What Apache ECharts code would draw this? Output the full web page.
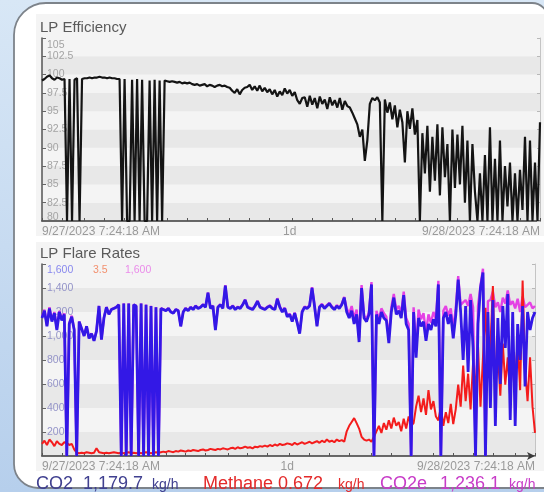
<!DOCTYPE html>
<html><head><meta charset="utf-8">
<script src="https://cdn.jsdelivr.net/npm/echarts@6/dist/echarts.min.js"></script>
<style>html,body{margin:0;padding:0;background:#c9dcf0}#c{width:544px;height:492px}</style>
</head><body><div id="c"></div>
<script>
// ---- data (uniform samples across 9/27/2023 7:24:18 AM -> 9/28/2023 7:24:18 AM) ----
const efficiency = [
 99.2,99.4,99.7,99.9,99.5,99.3,99.6,99.5,99.3,99.4,
 80,99.4,80,99.3,99.5,80,
 99.4,99.5,99.5,99.6,99.5,99.6,99.6,99.7,99.6,99.6,99.5,99.6,99.5,99.5,99.4,
 99.4,80,99.4,80,80,99.3,80,99.4,80,99.3,80,80,99.2,80,99.3,80,99.2,80,
 99.2,99.1,99.0,99.1,99.0,98.9,99.0,98.8,98.9,98.8,98.9,98.7,
 98.6,98.7,98.5,98.6,98.7,98.4,98.6,98.5,98.3,98.5,98.6,98.4,98.5,98.3,98.2,
 97.8,97.5,98.0,97.3,97.9,98.2,98.3,
 98.6,97.9,98.4,97.8,98.5,97.7,98.2,97.6,98.0,97.3,97.9,97.0,97.7,
 97.2,98.1,97.4,97.9,97.1,97.6,96.5,96.0,96.8,
 96.9,95.6,97.1,95.9,96.8,95.4,97.0,96.0,96.6,95.3,96.9,95.8,96.5,95.5,96.8,95.2,96.4,95.7,
 95.5,94.8,94.0,93.2,91.5,92.5,88.2,91.0,
 96.0,96.8,96.5,96.9,96.2,
 80,
 96.6,94.8,96.2,93.9,95.8,92.8,95.2,93.5,
 88.0,
 95.0,92.6,95.4,91.8,93.8,
 80,
 92.0,86.5,93.0,84.0,91.5,85.5,93.2,83.5,92.8,86.0,90.5,80,92.5,84.5,91.8,85.0,93.0,82.5,91.0,
 80,
 90.5,84.0,80,86.5,80,89.0,80,92.8,80,88.5,80,91.0,80,87.5,82.0,88.0,80,86.5,80,87.0,81.5,91.5,80,91.0,80,88.0,80,93.5
];
const co2 = [
 1150,1210,1080,1230,1120,1190,1050,1200,1130,1180,
 0,1100,1160,1050,0,
 1120,1060,1000,1080,980,1020,960,1040,
 1250,970,1150,1240,1180,1220,1230,1240,
 1260,0,1270,0,1270,0,1260,1250,0,1270,0,1260,0,1250,0,1240,0,1230,
 1220,1210,1230,1200,1190,1220,1210,1080,1200,1230,1210,1240,
 1220,1250,1230,1240,1260,1240,1360,1230,1250,1050,1240,1260,1230,1420,1240,
 1230,1250,1220,1240,1230,1260,1300,1240,1230,1220,1250,1290,1240,1230,1220,1240,1250,1230,1220,1310,1240,1200,1230,1160,
 1180,1120,1190,1110,1020,1200,1240,1230,1250,1400,
 1250,1080,1240,1260,1230,1250,1270,1240,1220,1250,1230,1260,1320,
 1200,1150,1210,1100,1180,950,1400,1150,1120,1180,1430,0,
 1180,1100,1200,1150,1130,940,1200,1320,1180,1210,1150,1340,1100,1050,0,1200,820,
 1150,1080,1120,960,1100,1050,1140,1080,1430,0,
 1150,1200,1100,1180,980,1170,1470,
 1200,800,1250,700,1300,900,0,1100,1400,1530,0,
 1200,400,1300,250,1150,600,1250,900,1350,300,1200,250,1100,800,1250,580,1200,1050,1150,1200
];
const methane = [
 0.22,0.28,0.2,0.3,0.25,0.18,0.27,0.22,0.2,0.25,
 0.24,0.2,0.22,0.12,0.06,0.05,0.06,0.05,0.07,0.06,
 0.05,0.06,0.14,0.07,0.06,0.05,0.06,0.05,0.06,0.07,
 0.06,0.05,0.06,0.05,0.06,0.07,0.05,0.06,0.05,0.06,
 0.05,0.06,0.07,0.06,0.05,0.06,0.07,0.06,0.07,0.08,
 0.07,0.09,0.08,0.07,0.09,0.08,0.1,0.09,0.08,0.1,
 0.09,0.11,0.1,0.09,0.11,0.12,0.1,0.11,0.13,0.12,
 0.11,0.13,0.12,0.14,0.13,0.12,0.14,0.15,0.13,0.16,
 0.14,0.15,0.17,0.15,0.16,0.14,0.17,0.16,0.18,0.17,
 0.19,0.17,0.2,0.18,0.21,0.19,0.22,0.2,0.21,0.23,
 0.22,0.2,0.24,0.21,0.23,0.25,0.22,0.24,0.26,0.23,
 0.25,0.27,0.24,0.28,0.25,0.3,0.26,0.28,0.25,0.3,0.27,0.29,0.26,
 0.45,0.55,0.62,0.69,0.6,0.5,0.35,0.3,
 0.28,0.3,0.26,
 0.35,0.45,0.55,0.42,0.6,0.48,0.65,0.5,0.7,0.55,0.62,0.45,0.68,0.5,0.72,0.55,0.6,
 0.9,1.1,0.8,1.05,0.75,1.2,0.85,1.0,0.72,
 0.65,0.9,0.55,0.8,0.6,0.95,0.58,0.85,
 1.3,0.9,1.65,1.0,1.5,0.85,1.7,
 1.2,2.0,0.9,1.8,2.7,
 1.5,2.0,3.1,1.2,1.9,1.1,2.05,1.3,1.8,1.05,1.95,1.4,2.1,1.2,3.2,1.6,1.0,1.8,0.9,0.42
];
const co2e = [
 1160,1220,1090,1240,1130,1200,1060,1210,1140,1190,
 0,1110,1170,1055,0,
 1122,1062,1002,1082,982,1022,962,1044,
 1252,972,1152,1242,1182,1222,1232,1242,
 1262,0,1272,0,1272,0,1262,1252,0,1272,0,1262,0,1252,0,1242,0,1232,
 1222,1213,1232,1202,1192,1222,1213,1083,1202,1233,1213,1243,
 1223,1253,1233,1243,1263,1243,1363,1233,1253,1053,1243,1263,1233,1423,1243,
 1234,1254,1224,1244,1234,1264,1304,1244,1234,1224,1254,1294,1244,1234,1224,1244,1255,1235,1225,1315,1245,1205,1235,1166,
 1186,1126,1196,1116,1026,1206,1246,1236,1256,1406,
 1256,1087,1246,1267,1236,1257,1276,1247,1226,1257,1237,1267,1326,
 1230,1185,1250,1145,1220,985,1425,1170,1140,1200,1450,0,
 1210,1140,1230,1190,1160,990,1240,1350,1220,1250,1190,1370,1150,1100,0,1240,880,
 1220,1140,1190,1030,1180,1110,1200,1140,1460,0,
 1210,1250,1170,1230,1060,1230,1500,
 1260,1280,1300,1250,1350,1240,0,1250,1420,1560,0,
 1290,1300,1370,1240,1280,1200,1320,1270,1380,1260,1290,1230,1310,1200,1330,1240,1260,1280,1230,1250
];
const xTickLabels = ['9/27/2023 7:24:18 AM', '1d', '9/28/2023 7:24:18 AM'];
const titles = ['LP Efficiency', 'LP Flare Rates'];
const legendNames = ['CO2', 'Methane', 'CO2e'];
const legendValues = ['1,179.7', '0.672', '1,236.1'];
const legendUnit = 'kg/h';

const N = efficiency.length;
const samples = efficiency.map((_, i) => String(i));
const MID = 99;
const FONT = 'Liberation Sans, Arial, sans-serif';

function xAxisFor(grid, arrow) {
  return {
    gridIndex: grid, type: 'category', data: samples, boundaryGap: false,
    axisLine: { show: true, lineStyle: { color: '#3a3a3a', width: 1.5 },
      symbol: arrow ? ['none', 'arrow'] : ['none', 'none'], symbolSize: [6, 8] },
    axisTick: { show: true, inside: true, length: 3, lineStyle: { color: '#555' },
      interval: (i) => Math.round(Math.round(i * 24 / (N - 1)) * (N - 1) / 24) === i },
    axisLabel: {
      interval: (i) => i === 0 || i === MID || i === N - 1,
      formatter: (v, i) => i === 0 ? xTickLabels[0] : (i === MID ? xTickLabels[1] : (i === N - 1 ? xTickLabels[2] : '')),
      alignMinLabel: 'left', alignMaxLabel: 'right',
      color: '#9a9a9a', fontSize: 12, fontFamily: FONT, margin: 5
    },
    splitLine: { show: false }
  };
}
function rightAxis(grid, min, max, interval) {
  return { gridIndex: grid, type: 'value', position: 'right', min, max, interval,
    axisLine: { show: true, lineStyle: { color: '#c4c4c4' } },
    axisTick: { show: true, inside: true, length: 3, lineStyle: { color: '#b8b8b8' } },
    axisLabel: { show: false }, splitLine: { show: false } };
}

const chart = echarts.init(document.getElementById('c'), null, { renderer: 'canvas' });
chart.setOption({
  animation: false,
  backgroundColor: '#c9dcf0',
  textStyle: { fontFamily: FONT },
  grid: [
    { left: 42, top: 38, width: 498, height: 183 },
    { left: 42, top: 264, width: 493, height: 192 }
  ],
  xAxis: [ xAxisFor(0, false), xAxisFor(1, true) ],
  yAxis: [
    { gridIndex: 0, type: 'value', position: 'left', min: 80, max: 105, interval: 2.5,
      axisLine: { show: true, lineStyle: { color: '#555', width: 1.5 } },
      axisTick: { show: true, inside: true, length: 4, lineStyle: { color: '#666' } },
      axisLabel: { inside: true, margin: 5, color: '#a4a4a4', fontSize: 10.5, fontFamily: FONT, hideOverlap: false,
        formatter: (v) => v === 105 ? '{t|105}' : (v === 80 ? '{b|80}' : String(v)),
        rich: { t: { padding: [14, 0, 0, 0], color: '#a4a4a4', fontSize: 10.5, fontFamily: FONT },
                b: { padding: [0, 0, 8, 0], color: '#a4a4a4', fontSize: 10.5, fontFamily: FONT } } },
      splitLine: { show: false },
      splitArea: { show: true, areaStyle: { color: ['#e8e8e8', '#f4f4f4'] } } },
    rightAxis(0, 80, 105, 2.5),
    { gridIndex: 1, type: 'value', position: 'left', min: 0, max: 1600, interval: 200,
      axisLine: { show: true, lineStyle: { color: '#555', width: 1.5 } },
      axisTick: { show: true, inside: true, length: 4, lineStyle: { color: '#666' } },
      axisLabel: { inside: true, margin: 5, color: '#9494c8', fontSize: 10.5, fontFamily: FONT,
        formatter: (v) => v === 0 ? '' : (v === 1600 ? '{t|1,600}' : v.toLocaleString('en-US')),
        rich: { t: { padding: [12, 0, 0, 0], color: '#8888ee', fontSize: 10.5, fontFamily: FONT } } },
      splitLine: { show: false },
      splitArea: { show: true, areaStyle: { color: ['#e8e8e8', '#f4f4f4'] } } },
    { gridIndex: 1, type: 'value', position: 'left', min: 0, max: 3.5, interval: 3.5,
      axisLine: { show: false }, axisTick: { show: false }, splitLine: { show: false },
      axisLabel: { inside: true, margin: 51, fontSize: 10.5, fontFamily: FONT,
        formatter: (v) => v === 3.5 ? '{t|3.5}' : '',
        rich: { t: { padding: [12, 0, 0, 0], color: '#f2906e', fontSize: 10.5, fontFamily: FONT } } } },
    { gridIndex: 1, type: 'value', position: 'left', min: 0, max: 1600, interval: 1600,
      axisLine: { show: false }, axisTick: { show: false }, splitLine: { show: false },
      axisLabel: { inside: true, margin: 83, fontSize: 10.5, fontFamily: FONT,
        formatter: (v) => v === 1600 ? '{t|1,600}' : '',
        rich: { t: { padding: [12, 0, 0, 0], color: '#ea8cea', fontSize: 10.5, fontFamily: FONT } } } },
    rightAxis(1, 0, 1600, 200)
  ],
  series: [
    { type: 'line', xAxisIndex: 0, yAxisIndex: 0, data: efficiency, symbol: 'none',
      lineStyle: { color: '#141414', width: 2.2 }, z: 3 },
    { type: 'line', xAxisIndex: 1, yAxisIndex: 4, data: co2e, symbol: 'none',
      lineStyle: { color: '#e442e4', width: 2.4 }, z: 2 },
    { type: 'line', xAxisIndex: 1, yAxisIndex: 3, data: methane, symbol: 'none',
      lineStyle: { color: '#f41c1c', width: 2 }, z: 3 },
    { type: 'line', xAxisIndex: 1, yAxisIndex: 2, data: co2, symbol: 'none',
      lineStyle: { color: '#3318e6', width: 2.8 }, z: 4 }
  ],
  graphic: [
    { type: 'rect', z: -100, silent: true, shape: { x: 0, y: 0, width: 544, height: 492 },
      style: { fill: new echarts.graphic.LinearGradient(0, 0, 0, 1, [
        { offset: 0, color: '#d8e7f6' }, { offset: 1, color: '#b6cfec' }]) } },
    { type: 'rect', z: -99, silent: true, shape: { x: 14, y: 3, width: 534, height: 485, r: [32, 16, 0, 24] },
      style: { fill: '#ffffff', stroke: '#7d838a', lineWidth: 1.8 } },
    { type: 'rect', z: -98, silent: true, shape: { x: 36, y: 14, width: 508, height: 222 },
      style: { fill: '#f4f4f4' } },
    { type: 'rect', z: -98, silent: true, shape: { x: 36, y: 242, width: 508, height: 229 },
      style: { fill: '#f4f4f4' } },
    { type: 'text', x: 40, y: 28, style: { text: titles[0], fill: '#5a5a5a', font: '15px ' + FONT, verticalAlign: 'middle' } },
    { type: 'text', x: 40, y: 254, style: { text: titles[1], fill: '#5a5a5a', font: '15px ' + FONT, verticalAlign: 'middle' } },
    { type: 'text', x: 36, y: 484, style: { text: legendNames[0], fill: '#404090', font: '18px ' + FONT, verticalAlign: 'middle' } },
    { type: 'text', x: 83, y: 484, style: { text: legendValues[0], fill: '#404090', font: '18px ' + FONT, verticalAlign: 'middle' } },
    { type: 'text', x: 152, y: 485, style: { text: legendUnit, fill: '#404090', font: '14px ' + FONT, verticalAlign: 'middle' } },
    { type: 'text', x: 203, y: 484, style: { text: legendNames[1], fill: '#e42a2a', font: '18px ' + FONT, verticalAlign: 'middle' } },
    { type: 'text', x: 278, y: 484, style: { text: legendValues[1], fill: '#e42a2a', font: '18px ' + FONT, verticalAlign: 'middle' } },
    { type: 'text', x: 338, y: 485, style: { text: legendUnit, fill: '#e42a2a', font: '14px ' + FONT, verticalAlign: 'middle' } },
    { type: 'text', x: 380, y: 484, style: { text: legendNames[2], fill: '#c83cc8', font: '18px ' + FONT, verticalAlign: 'middle' } },
    { type: 'text', x: 440, y: 484, style: { text: legendValues[2], fill: '#c83cc8', font: '18px ' + FONT, verticalAlign: 'middle' } },
    { type: 'text', x: 509, y: 485, style: { text: legendUnit, fill: '#c83cc8', font: '14px ' + FONT, verticalAlign: 'middle' } }
  ]
});
</script></body></html>
